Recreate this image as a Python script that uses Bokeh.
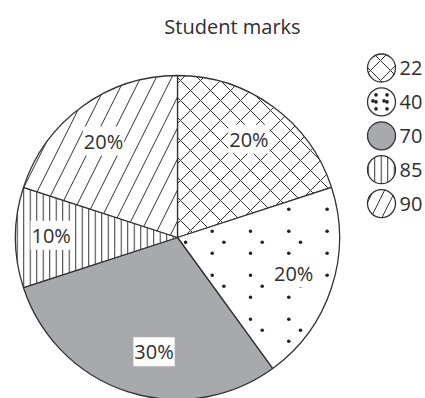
import math
import numpy as np
from bokeh.plotting import figure
from bokeh.models import Range1d, Label
from bokeh.embed import file_html
from bokeh.resources import INLINE
from bokeh.core.properties import value

# ---- data ----
TITLE = "Student marks"
marks = ["22", "40", "70", "85", "90"]
percent = [20, 20, 30, 10, 20]
pct_labels = ["20%", "20%", "30%", "10%", "20%"]

# ---- styles ----
fills = ["white", "white", "#a7a9ac", "white", "white"]
hatches = ["x", None, None, "|", "/"]
hatch_scales = [20, 10, 10, 6.5, 31]
legend_hatch_scales = [20, 10, 10, 6.5, 22]
dotted = [False, True, False, False, False]
label_angle_nudge = [0.0, 1.0, 6.4, -1.0, 1.5]   # degrees
label_radius = [0.75, 0.75, 0.72, 0.78, 0.75]    # fraction of R

W, H = 425, 398
CX, CY, R = 177.0, H - 237.0, 162.0
INK = "#333333"
TEXT = "#2e2e2e"
FONT = "Open Sans"

p = figure(width=W, height=H, x_range=Range1d(0, W), y_range=Range1d(0, H),
           output_backend="svg", toolbar_location=None, min_border=0,
           x_axis_type=None, y_axis_type=None, outline_line_color=None,
           background_fill_color="white", border_fill_color="white")
p.grid.visible = False

frac = np.array(percent, dtype=float) / sum(percent)
cum = np.cumsum(frac)
starts = math.pi / 2 - 2 * math.pi * (cum - frac)
ends = math.pi / 2 - 2 * math.pi * cum


def dot_grid(x0, y0, px, py, ox, oy):
    xs, ys = [], []
    for i in range(-12, 13):
        for j in range(-12, 13):
            bx, by = x0 + i * px, y0 + j * py
            for dx, dy in [(0, 0), (0, -py / 2), (ox, oy)]:
                xs.append(bx + dx)
                ys.append(by + dy)
    return np.array(xs), np.array(ys)


for k in range(len(marks)):
    kw = dict(fill_color=fills[k], line_color=INK, line_width=1.3)
    if hatches[k]:
        kw.update(hatch_pattern=hatches[k], hatch_scale=hatch_scales[k],
                  hatch_color=INK, hatch_weight=1)
    p.wedge(x=CX, y=CY, radius=R, start_angle=starts[k], end_angle=ends[k],
            direction="clock", **kw)
    if dotted[k]:
        xs, ys = dot_grid(250.0, H - 230.7, 38.3, 44.0, 11.7, -11.0)
        dx, dy = xs - CX, ys - CY
        rr = np.hypot(dx, dy)
        ang = np.arctan2(dy, dx)
        lo, hi = ends[k], starts[k]
        ok = (rr < R - 3) & (rr > 6)
        ok &= (ang > lo) & (ang < hi)
        d1 = np.abs(-math.sin(lo) * dx + math.cos(lo) * dy)
        d2 = np.abs(-math.sin(hi) * dx + math.cos(hi) * dy)
        ok &= (d1 > 3) & (d2 > 3)
        p.scatter(xs[ok], ys[ok], size=3.6, marker="circle",
                  fill_color="#222222", line_color=None)

# percentage labels
for k in range(len(marks)):
    mid = (starts[k] + ends[k]) / 2 + math.radians(label_angle_nudge[k])
    lx = CX + label_radius[k] * R * math.cos(mid)
    ly = CY + label_radius[k] * R * math.sin(mid)
    p.add_layout(Label(x=lx, y=ly, text=pct_labels[k], text_align="center",
                       text_baseline="middle", text_font=FONT,
                       text_font_size="20px", text_color=TEXT,
                       background_fill_color="white", padding=1))

# legend
LX, LY0, LSTEP, LRAD = 381.0, H - 67.5, 33.9, 14.0
for k in range(len(marks)):
    ly = LY0 - k * LSTEP
    kw = dict(fill_color=fills[k], line_color=INK, line_width=1.3)
    if hatches[k]:
        kw.update(hatch_pattern=hatches[k], hatch_scale=legend_hatch_scales[k],
                  hatch_color=INK, hatch_weight=1)
    p.scatter([LX], [ly], size=2 * LRAD, marker="circle", **kw)
    if dotted[k]:
        xs, ys = dot_grid(LX - 5.5, ly + 7.0, 11.0, 14.0, 8.0, -6.0)
        ok = np.hypot(xs - LX, ys - ly) < LRAD - 4
        p.scatter(xs[ok], ys[ok], size=3.6, marker="circle",
                  fill_color="#222222", line_color=None)
    p.add_layout(Label(x=LX + 18, y=ly, text=marks[k], text_align="left",
                       text_baseline="middle", text_font=FONT,
                       text_font_size="20px", text_color=TEXT))

p.add_layout(Label(x=232, y=H - 26, text=TITLE, text_align="center",
                   text_baseline="alphabetic", text_font=FONT,
                   text_font_size="20px", text_color=TEXT))

open("out.html", "w").write(file_html(p, INLINE))
